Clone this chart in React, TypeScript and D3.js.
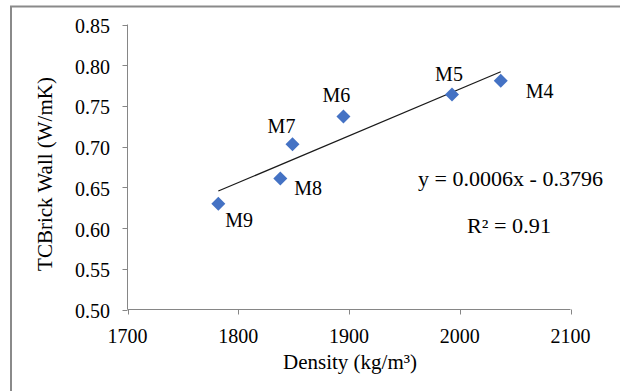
import { useEffect, useRef } from 'react';
import * as d3 from 'd3';

// Brick mixes: density vs wall thermal conductivity
const mixes = ['M9', 'M8', 'M7', 'M6', 'M5', 'M4'];
const density = [1782, 1838, 1849, 1895, 1993, 2037];
const conductivity = [0.630, 0.661, 0.703, 0.737, 0.764, 0.781];

const xTicks = [1700, 1800, 1900, 2000, 2100];
const yTicks = [0.50, 0.55, 0.60, 0.65, 0.70, 0.75, 0.80, 0.85];

// label offsets from the marker: [dx, dy, anchor]
const labelOffsets: [number, number, string][] = [
  [7, 23, 'start'],
  [14, 17, 'start'],
  [-11, -11, 'middle'],
  [-7, -15, 'middle'],
  [-3, -14, 'middle'],
  [25, 17, 'start'],
];

export default function App() {
  const svgRef = useRef<SVGSVGElement>(null);

  useEffect(() => {
    if (!svgRef.current) return;
    const svg = d3.select(svgRef.current);
    svg.selectAll('*').remove();

    const font = 'Liberation Serif, DejaVu Serif, serif';
    const axisColor = '#868686';

    const x = d3.scaleLinear().domain([1700, 2100]).range([127.5, 570.5]);
    const y = d3.scaleLinear().domain([0.5, 0.85]).range([309.5, 24.5]);

    // outer chart frame (runs off the right and bottom edges)
    svg.append('rect')
      .attr('x', 11).attr('y', 6.5)
      .attr('width', 640).attr('height', 420)
      .attr('fill', 'white')
      .attr('stroke', '#8a8a8a')
      .attr('stroke-width', 2);

    const g = svg.append('g').attr('font-family', font).attr('fill', '#000');

    // y axis
    g.append('line')
      .attr('x1', x(1700)).attr('x2', x(1700))
      .attr('y1', y(0.85)).attr('y2', y(0.5))
      .attr('stroke', axisColor);
    g.selectAll('line.ytick').data(yTicks).enter().append('line')
      .attr('class', 'ytick')
      .attr('x1', x(1700) - 5).attr('x2', x(1700))
      .attr('y1', d => Math.round(y(d)) + 0.5).attr('y2', d => Math.round(y(d)) + 0.5)
      .attr('stroke', axisColor);
    g.selectAll('text.ylab').data(yTicks).enter().append('text')
      .attr('class', 'ylab')
      .attr('x', 110)
      .attr('y', d => y(d) + 8.5)
      .attr('text-anchor', 'end')
      .attr('font-size', 20)
      .text(d => d.toFixed(2));

    // x axis
    g.append('line')
      .attr('x1', x(1700)).attr('x2', x(2100))
      .attr('y1', y(0.5)).attr('y2', y(0.5))
      .attr('stroke', axisColor);
    g.selectAll('line.xtick').data(xTicks).enter().append('line')
      .attr('class', 'xtick')
      .attr('x1', d => Math.round(x(d)) + 0.5).attr('x2', d => Math.round(x(d)) + 0.5)
      .attr('y1', y(0.5)).attr('y2', y(0.5) + 5)
      .attr('stroke', axisColor);
    g.selectAll('text.xlab').data(xTicks).enter().append('text')
      .attr('class', 'xlab')
      .attr('x', d => x(d))
      .attr('y', 343)
      .attr('text-anchor', 'middle')
      .attr('font-size', 20)
      .text(d => d);

    // axis titles
    g.append('text')
      .attr('x', 350).attr('y', 369)
      .attr('text-anchor', 'middle')
      .attr('font-size', 21)
      .text('Density (kg/m³)');

    g.append('text')
      .attr('transform', 'translate(52,174) rotate(-90)')
      .attr('text-anchor', 'middle')
      .attr('font-size', 21)
      .text('TCBrick Wall (W/mK)');

    // linear trendline (least squares over the points)
    const mx = d3.mean(density)!;
    const my = d3.mean(conductivity)!;
    const sxy = d3.sum(density, (d, i) => (d - mx) * (conductivity[i] - my));
    const sxx = d3.sum(density, d => (d - mx) ** 2);
    const slope = sxy / sxx;
    const intercept = my - slope * mx;
    const [x0, x1] = d3.extent(density) as [number, number];
    g.append('line')
      .attr('x1', x(x0)).attr('y1', y(slope * x0 + intercept))
      .attr('x2', x(x1)).attr('y2', y(slope * x1 + intercept))
      .attr('stroke', '#1a1a1a')
      .attr('stroke-width', 1.2);

    // markers
    const r = 7;
    g.selectAll('path.pt').data(density).enter().append('path')
      .attr('class', 'pt')
      .attr('d', (d, i) => {
        const cx = x(d), cy = y(conductivity[i]);
        return `M${cx},${cy - r}L${cx + r},${cy}L${cx},${cy + r}L${cx - r},${cy}Z`;
      })
      .attr('fill', '#4472C4');

    // point labels
    g.selectAll('text.lbl').data(mixes).enter().append('text')
      .attr('class', 'lbl')
      .attr('x', (d, i) => x(density[i]) + labelOffsets[i][0])
      .attr('y', (d, i) => y(conductivity[i]) + labelOffsets[i][1])
      .attr('text-anchor', (d, i) => labelOffsets[i][2])
      .attr('font-size', 20)
      .text(d => d);

    // regression annotation
    g.append('text')
      .attr('x', 418).attr('y', 186)
      .attr('textLength', 185)
      .attr('lengthAdjust', 'spacingAndGlyphs')
      .attr('font-size', 20)
      .text('y = 0.0006x - 0.3796');

    g.append('text')
      .attr('x', 467).attr('y', 233)
      .attr('textLength', 84)
      .attr('lengthAdjust', 'spacingAndGlyphs')
      .attr('font-size', 20)
      .text('R² = 0.91');
  }, []);

  return (
    <svg
      ref={svgRef}
      width={620}
      height={391}
      style={{ position: 'absolute', left: 0, top: 0, background: 'white' }}
    />
  );
}
